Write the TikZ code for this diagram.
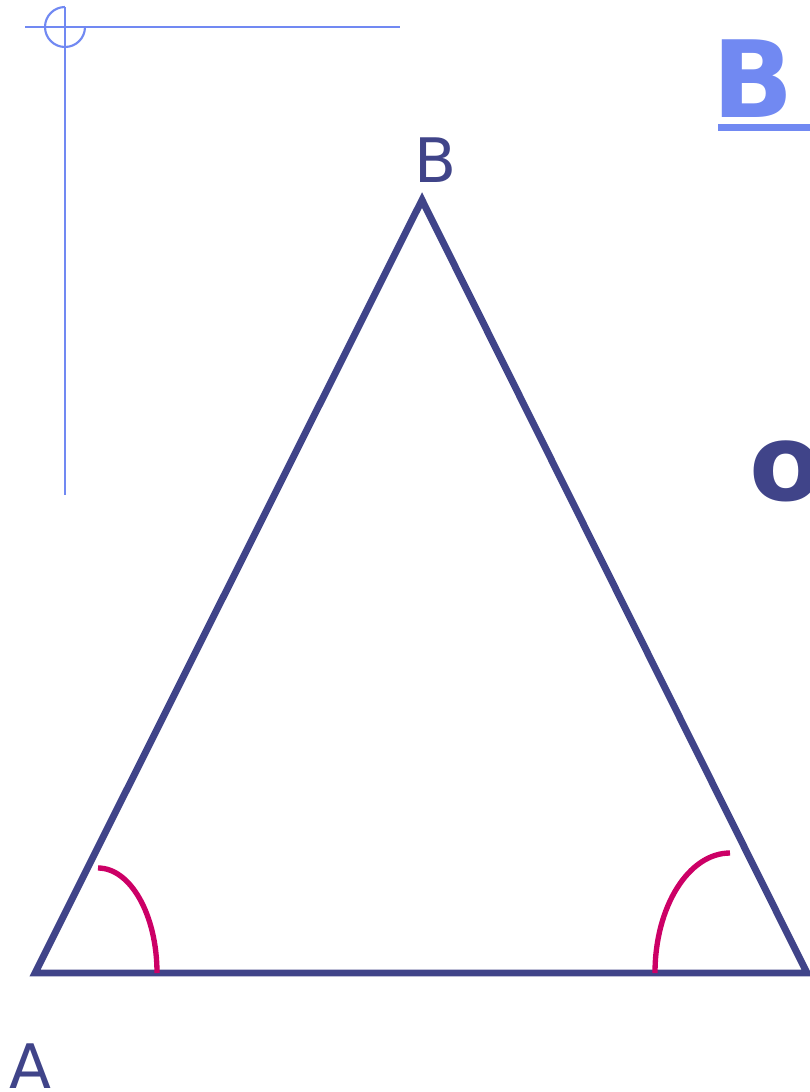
\documentclass[tikz,border=0pt]{standalone}
\usepackage{fontspec}
\setmainfont{DejaVu Sans}
\usetikzlibrary{calc}
\definecolor{trinavy}{HTML}{404489}
\definecolor{arcmagenta}{HTML}{CC0066}
\definecolor{guideblue}{HTML}{7189F2}
\tikzset{
  side/.style={draw=trinavy,line width=5.2pt,line join=miter},
  anglemark/.style={draw=arcmagenta,line width=4pt},
  guide/.style={draw=guideblue,line width=1.6pt},
  vlab/.style={text=trinavy,font=\fontsize{46}{55}\selectfont,inner sep=0,anchor=base west},
  bigletter/.style={font=\bfseries\fontsize{80}{96}\selectfont,inner sep=0,anchor=base west},
}
\begin{document}
\begin{tikzpicture}[x=0.75pt,y=0.75pt]
  \useasboundingbox (0,0) rectangle (810,-1092);
  \clip (0,0) rectangle (810,-1092);
  % guide cross in the corner
  \coordinate (gc) at (65,-27);
  \coordinate (gl) at (25,-27);
  \coordinate (gr) at (400,-27);
  \coordinate (gb) at (65,-495);
  \draw[guide] (gl) -- (gr);
  \draw[guide] ($(gc)+(0,20)$) -- (gb);
  \draw[guide] ($(gc)+(0,20)$) arc[start angle=90,end angle=360,radius=20];
  % the triangle
  \coordinate (A) at (35,-973);
  \coordinate (B) at (422,-200);
  \coordinate (C) at (807,-973);
  \draw[side] (A) -- (B) -- (C) -- cycle;
  \node[vlab] (labA) at (9,-1088) {A};
  \node[vlab] (labB) at (414,-182) {B};
  % equal base angles
  \draw[anglemark] (98,-868) arc[start angle=90,end angle=0,x radius=59,y radius=105];
  \draw[anglemark] (730,-853) arc[start angle=90,end angle=180,x radius=75,y radius=120];
  % cut-off letters at the right edge
  \node[bigletter,text=guideblue] (bigB) at (712,-117) {B};
  \fill[guideblue] (718,-124) rectangle (810,-131);
  \node[bigletter,text=trinavy] (bigO) at (749,-500) {o};
\end{tikzpicture}
\end{document}
